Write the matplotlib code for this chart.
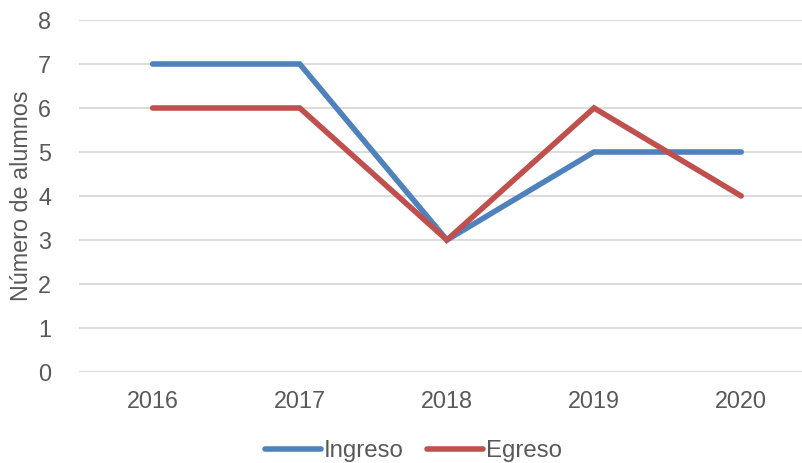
import matplotlib
matplotlib.use("Agg")
import matplotlib.pyplot as plt

# ==============================================================================
#                           DATA
# ==============================================================================
years = ["2016", "2017", "2018", "2019", "2020"]
ingreso = [7, 7, 3, 5, 5]
egreso = [6, 6, 3, 6, 4]

plt.rcParams['font.family'] = ['Liberation Sans', 'DejaVu Sans']
txt_col = "#595959"
fs = 16.8

fig = plt.figure(figsize=(8.03, 4.63), dpi=100)
ax = fig.add_axes([79/803, 91/463, (803-79)/803, (372-20)/463])

x = range(len(years))
ax.plot(x, ingreso, color="#4F81BD", linewidth=4, solid_capstyle="round",
        solid_joinstyle="miter", label="Ingreso", zorder=3)
ax.plot(x, egreso, color="#C0504D", linewidth=4, solid_capstyle="round",
        solid_joinstyle="miter", label="Egreso", zorder=3)

ax.set_xlim(-0.5, 4.42)
ax.set_ylim(0, 8)
ax.set_yticks(range(0, 9))
ax.set_xticks(list(x))
ax.set_xticklabels(years)
ax.grid(axis="y", color="#D9D9D9", linewidth=1.3)
ax.set_axisbelow(True)
for s in ax.spines.values():
    s.set_visible(False)
ax.tick_params(length=0, labelsize=fs, labelcolor=txt_col)
ax.tick_params(axis="x", pad=13)
ax.tick_params(axis="y", pad=20)

fig.text(22/803, 1 - 196/463, "Número de alumnos", rotation=90, ha="center",
         va="center", fontsize=fs, color=txt_col)

leg = fig.legend(loc="center", bbox_to_anchor=(413.5/803, 1 - 451/463), ncol=2,
                 frameon=False, fontsize=17.3, handlelength=2.33, handletextpad=0.1,
                 columnspacing=1.0, labelcolor=txt_col)

fig.savefig("out.png", dpi=100)
